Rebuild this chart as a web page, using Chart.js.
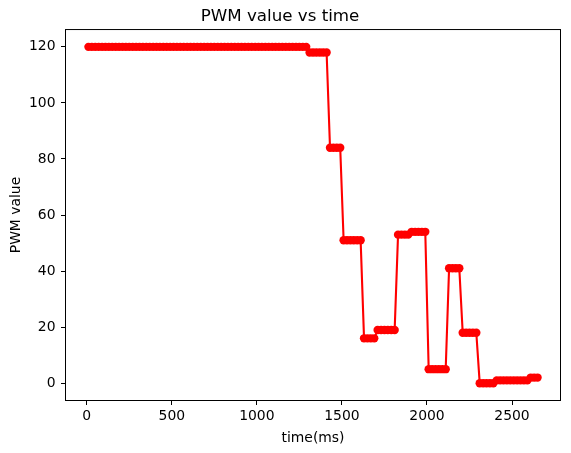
<!DOCTYPE html>
<html>
<head>
<meta charset="utf-8">
<script src="https://cdn.jsdelivr.net/npm/chart.js@4/dist/chart.umd.min.js"></script>
<style>
  body { margin: 0; background: #fff; }
</style>
</head>
<body>
<canvas id="pwm" width="571" height="453"></canvas>
<script>
// time stamps (ms) of the samples
var timeMs = [
  10, 30, 50, 70, 90, 110, 130, 150, 170, 190,
  210, 230, 250, 270, 290, 310, 330, 350, 370, 390,
  410, 430, 450, 470, 490, 510, 530, 550, 570, 590,
  610, 630, 650, 670, 690, 710, 730, 750, 770, 790,
  810, 830, 850, 870, 890, 910, 930, 950, 970, 990,
  1010, 1030, 1050, 1070, 1090, 1110, 1130, 1150, 1170, 1190,
  1210, 1230, 1250, 1270, 1290,
  1310, 1330, 1350, 1370, 1390, 1410,
  1430, 1450, 1470, 1490,
  1510, 1530, 1550, 1570, 1590, 1610,
  1630, 1650, 1670, 1690,
  1710, 1730, 1750, 1770, 1790, 1810,
  1830, 1850, 1870, 1890,
  1910, 1930, 1950, 1970, 1990,
  2010, 2030, 2050, 2070, 2090, 2110,
  2130, 2150, 2170, 2190,
  2210, 2230, 2250, 2270, 2290,
  2310, 2330, 2350, 2370, 2390,
  2410, 2430, 2450, 2470, 2490, 2510, 2530, 2550, 2570, 2590,
  2610, 2630, 2650
];

// PWM value at each sample
var pwmValue = [
  120, 120, 120, 120, 120, 120, 120, 120, 120, 120,
  120, 120, 120, 120, 120, 120, 120, 120, 120, 120,
  120, 120, 120, 120, 120, 120, 120, 120, 120, 120,
  120, 120, 120, 120, 120, 120, 120, 120, 120, 120,
  120, 120, 120, 120, 120, 120, 120, 120, 120, 120,
  120, 120, 120, 120, 120, 120, 120, 120, 120, 120,
  120, 120, 120, 120, 120,
  118, 118, 118, 118, 118, 118,
  84, 84, 84, 84,
  51, 51, 51, 51, 51, 51,
  16, 16, 16, 16,
  19, 19, 19, 19, 19, 19,
  53, 53, 53, 53,
  54, 54, 54, 54, 54,
  5, 5, 5, 5, 5, 5,
  41, 41, 41, 41,
  18, 18, 18, 18, 18,
  0, 0, 0, 0, 0,
  1, 1, 1, 1, 1, 1, 1, 1, 1, 1,
  2, 2, 2
];

var xTicks = [0, 500, 1000, 1500, 2000, 2500];
var yTicks = [0, 20, 40, 60, 80, 100, 120];

var font = { family: "'DejaVu Sans', sans-serif", size: 13.9 };

// box around the plot area (matplotlib spines)
var frame = {
  id: 'frame',
  afterDatasetsDraw: function(chart) {
    var a = chart.chartArea, c = chart.ctx;
    c.save();
    c.strokeStyle = '#000';
    c.lineWidth = 1;
    c.strokeRect(a.left - 0.5, a.top - 0.5, a.right - a.left + 1, a.bottom - a.top + 1);
    c.restore();
  }
};

var points = timeMs.map(function(t, i) { return { x: t, y: pwmValue[i] }; });

new Chart(document.getElementById('pwm').getContext('2d'), {
  type: 'scatter',
  data: {
    datasets: [{
      data: points,
      showLine: true,
      borderColor: '#ff0000',
      backgroundColor: '#ff0000',
      borderWidth: 2.1,
      pointRadius: 4.2,
      pointBorderWidth: 0,
      pointHoverRadius: 4.2,
      tension: 0
    }]
  },
  options: {
    responsive: false,
    animation: false,
    layout: { padding: { left: 0, right: 11, top: 0, bottom: 0 } },
    plugins: {
      legend: { display: false },
      tooltip: { enabled: false },
      title: {
        display: true,
        text: 'PWM value vs time',
        color: '#000',
        font: { family: font.family, size: 16.7, weight: 'normal' },
        padding: { top: 7, bottom: 3 }
      }
    },
    scales: {
      x: {
        type: 'linear',
        min: -122,
        max: 2782,
        afterBuildTicks: function(s) { s.ticks = xTicks.map(function(v) { return { value: v }; }); },
        afterFit: function(s) { s.height = 53; },
        border: { display: false },
        grid: { drawOnChartArea: false, drawTicks: true, tickLength: 5, color: '#000', tickColor: '#000' },
        ticks: { color: '#000', font: font, padding: 3, maxRotation: 0, callback: function(v) { return String(v); } },
        title: { display: true, text: 'time(ms)', color: '#000', font: font, padding: { top: 0, bottom: 6 } }
      },
      y: {
        type: 'linear',
        min: -6,
        max: 126,
        afterBuildTicks: function(s) { s.ticks = yTicks.map(function(v) { return { value: v }; }); },
        afterFit: function(s) { s.width = 66; },
        border: { display: false },
        grid: { drawOnChartArea: false, drawTicks: true, tickLength: 5, color: '#000', tickColor: '#000' },
        ticks: { color: '#000', font: font, padding: 5.5, callback: function(v) { return String(v); } },
        title: { display: true, text: 'PWM value', color: '#000', font: font, padding: { top: 8, bottom: 0 } }
      }
    }
  },
  plugins: [frame]
});
</script>
</body>
</html>
